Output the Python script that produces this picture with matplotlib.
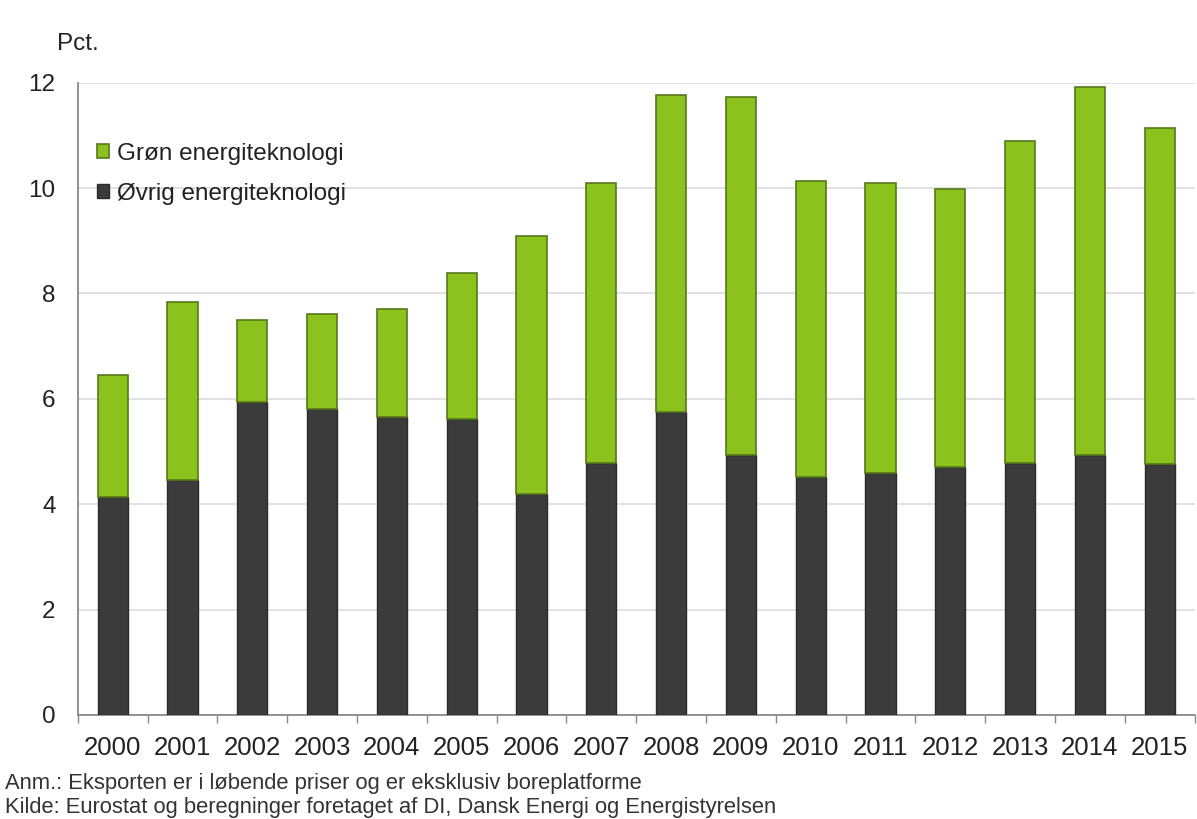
import matplotlib.pyplot as plt
import numpy as np

plt.rcParams['font.family'] = ['Liberation Sans', 'DejaVu Sans']

years = ["2000", "2001", "2002", "2003", "2004", "2005", "2006", "2007",
         "2008", "2009", "2010", "2011", "2012", "2013", "2014", "2015"]
# Øvrig (other) energy technology, share of exports in pct.
ovrig = [4.14, 4.46, 5.94, 5.81, 5.66, 5.62, 4.20, 4.78,
         5.75, 4.94, 4.52, 4.59, 4.71, 4.78, 4.94, 4.77]
# Grøn (green) energy technology, stacked on top
gron = [2.32, 3.38, 1.56, 1.80, 2.05, 2.77, 4.89, 5.32,
        6.02, 6.79, 5.62, 5.51, 5.28, 6.12, 6.98, 6.37]
yticks = [0, 2, 4, 6, 8, 10, 12]

dark = "#3b3b3b"
green = "#8cc21e"
txt = "#222222"

fig = plt.figure(figsize=(11.97, 8.19), dpi=100)
ax = fig.add_axes([0.065, 0.127, 0.933, 0.772])

x = np.arange(len(years))
w = 0.43
ax.bar(x, ovrig, width=w, color=dark, edgecolor="#2a2a2a", linewidth=1,
       label="Øvrig energiteknologi", zorder=3)
ax.bar(x, gron, width=w, bottom=ovrig, color=green, edgecolor="#56781a",
       linewidth=1.2, label="Grøn energiteknologi", zorder=3)

ax.set_xlim(-0.5, len(years) - 0.5)
ax.set_ylim(0, 12)
ax.set_yticks(yticks)
ax.set_yticklabels([str(t) for t in yticks], fontsize=17.5, color=txt)
ax.tick_params(axis="y", length=0, pad=16)
ax.yaxis.grid(True, color="#dcdcdc", linewidth=1.2, zorder=0)

# year labels in the middle, tick marks on the category boundaries
ax.set_xticks(x)
ax.set_xticklabels(years, fontsize=18.5, color=txt)
ax.tick_params(axis="x", which="major", length=0, pad=15)
ax.set_xticks(np.arange(-0.5, len(years)), minor=True)
ax.tick_params(axis="x", which="minor", length=6, width=1, color="#888888",
               direction="out")

for s in ["top", "right"]:
    ax.spines[s].set_visible(False)
for s in ["left", "bottom"]:
    ax.spines[s].set_color("#8a8a8a")
    ax.spines[s].set_linewidth(1.3)

handles, labels = ax.get_legend_handles_labels()
leg = ax.legend(handles[::-1], labels[::-1], loc="upper left",
                bbox_to_anchor=(0.0086, 0.92), frameon=False, fontsize=17.5,
                handlelength=0.5, handleheight=0.5, handletextpad=0.33,
                labelspacing=0.72, borderaxespad=0)
for t in leg.get_texts():
    t.set_color(txt)

fig.text(0.0476, 0.946, "Pct.", fontsize=17.5, color=txt, ha="left", va="center")
fig.text(0.004, 1 - 784 / 819, "Anm.: Eksporten er i løbende priser og er eksklusiv boreplatforme",
         fontsize=15.8, color="#333333", ha="left", va="center")
fig.text(0.004, 1 - 807 / 819, "Kilde: Eurostat og beregninger foretaget af DI, Dansk Energi og Energistyrelsen",
         fontsize=15.8, color="#333333", ha="left", va="center")

fig.savefig("out.png", dpi=100, facecolor="white")
